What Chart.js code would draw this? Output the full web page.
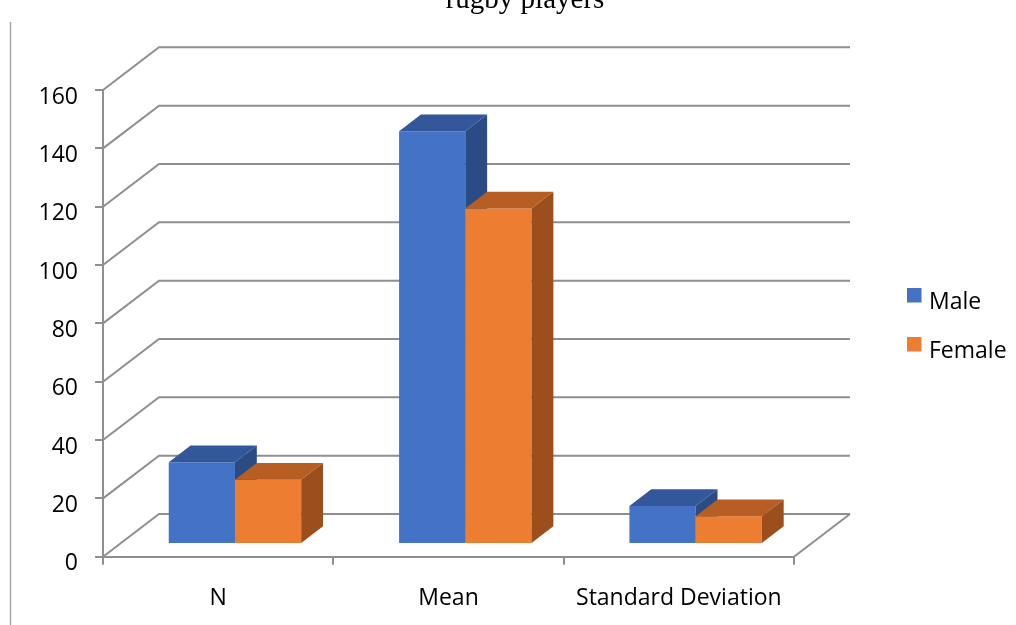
<!DOCTYPE html>
<html>
<head>
<meta charset="utf-8">
<script src="https://cdn.jsdelivr.net/npm/chart.js@4.4.1/dist/chart.umd.min.js"></script>
<style>
  html, body { margin: 0; padding: 0; background: #ffffff; }
  #wrap { width: 1016px; height: 625px; position: relative; }
</style>
</head>
<body>
<div id="wrap"><canvas id="chart" width="1016" height="625"></canvas></div>
<script>
// ---- data ----
const categories = ['N', 'Mean', 'Standard Deviation'];
const seriesNames = ['Male', 'Female'];
const maleValues = [28, 141.5, 13];
const femaleValues = [22, 115, 9.5];
const titleText = 'rugby players';
const yMin = 0;
const yMax = 160;
const yStep = 20;

// ---- look ----
const FONT = '"Open Sans", "DejaVu Sans", sans-serif';
const GRID = '#8f8f8f';
const faceColors = [
  { front: '#4472C4', top: '#32579B', side: '#2B4B85' },
  { front: '#ED7D31', top: '#B65E23', side: '#9C4F1D' }
];
// oblique projection: where the back wall sits relative to the front plane
const WALL_DX = 56;
const WALL_DY = -42.7;
// bars occupy this slice of the depth
const BAR_FRONT = 0.30;
const BAR_DEPTH = 0.39;

function drawWalls(chart) {
  const { ctx, chartArea } = chart;
  const ys = chart.scales.y;
  ctx.save();
  ctx.strokeStyle = GRID;
  ctx.lineWidth = 2;
  ys.ticks.forEach(t => {
    const y = ys.getPixelForValue(t.value);
    ctx.beginPath();
    ctx.moveTo(chartArea.left, y);
    ctx.lineTo(chartArea.left + WALL_DX, y + WALL_DY);
    ctx.lineTo(chartArea.right + WALL_DX, y + WALL_DY);
    ctx.stroke();
  });
  // right edge of the floor
  const y0 = ys.getPixelForValue(yMin);
  ctx.beginPath();
  ctx.moveTo(chartArea.right + WALL_DX, y0 + WALL_DY);
  ctx.lineTo(chartArea.right, y0);
  ctx.stroke();
  ctx.restore();
}

function drawFaces(ctx, meta, col) {
  const ddx = WALL_DX * BAR_DEPTH;
  const ddy = WALL_DY * BAR_DEPTH;
  meta.data.forEach(bar => {
    const { x, y, base, width } = bar.getProps(['x', 'y', 'base', 'width'], true);
    const l = x - width / 2;
    const r = x + width / 2;
    // top face
    ctx.fillStyle = col.top;
    ctx.beginPath();
    ctx.moveTo(l, y);
    ctx.lineTo(l + ddx, y + ddy);
    ctx.lineTo(r + ddx, y + ddy);
    ctx.lineTo(r, y);
    ctx.closePath();
    ctx.fill();
    // right side face
    ctx.fillStyle = col.side;
    ctx.beginPath();
    ctx.moveTo(r, y);
    ctx.lineTo(r + ddx, y + ddy);
    ctx.lineTo(r + ddx, base + ddy);
    ctx.lineTo(r, base);
    ctx.closePath();
    ctx.fill();
  });
}

const box3d = {
  id: 'box3d',
  beforeDatasetsDraw(chart) {
    const ctx = chart.ctx;
    drawWalls(chart);
    // series drawn left to right so each box hides the side of the one before it
    chart.data.datasets.forEach((ds, i) => {
      const meta = chart.getDatasetMeta(i);
      if (!chart.isDatasetVisible(i)) return;
      ctx.save();
      ctx.translate(WALL_DX * BAR_FRONT, WALL_DY * BAR_FRONT);
      meta.controller.draw();
      drawFaces(ctx, meta, faceColors[i]);
      ctx.restore();
    });
    return false;
  },
  afterDraw(chart) {
    const ctx = chart.ctx;
    ctx.save();
    // frame line on the left
    ctx.strokeStyle = '#a8a8a8';
    ctx.lineWidth = 1.5;
    ctx.beginPath();
    ctx.moveTo(10.5, 22);
    ctx.lineTo(10.5, 625);
    ctx.stroke();
    // title
    ctx.fillStyle = '#000';
    ctx.font = '29px "Liberation Serif", "Times New Roman", serif';
    ctx.textAlign = 'center';
    ctx.textBaseline = 'alphabetic';
    ctx.fillText(titleText, 525, 8);
    // legend
    ctx.font = '23px ' + FONT;
    ctx.textAlign = 'left';
    chart.data.datasets.forEach((ds, i) => {
      const top = 288 + i * 49;
      ctx.fillStyle = ds.backgroundColor;
      ctx.fillRect(907, top, 14.5, 14.5);
      ctx.fillStyle = '#000';
      ctx.fillText(ds.label, 929, top + 20.5);
    });
    ctx.restore();
  }
};

new Chart(document.getElementById('chart'), {
  type: 'bar',
  data: {
    labels: categories,
    datasets: [
      { label: seriesNames[0], data: maleValues, backgroundColor: faceColors[0].front },
      { label: seriesNames[1], data: femaleValues, backgroundColor: faceColors[1].front }
    ]
  },
  options: {
    responsive: false,
    animation: false,
    devicePixelRatio: 1,
    layout: { padding: { top: 90, right: 222, bottom: 0, left: 0 } },
    datasets: { bar: { categoryPercentage: 0.575, barPercentage: 1.0, borderWidth: 0 } },
    plugins: {
      legend: { display: false },
      title: { display: false },
      tooltip: { enabled: false }
    },
    scales: {
      x: {
        type: 'category',
        offset: true,
        grid: { display: true, offset: true, drawOnChartArea: false, drawTicks: true, tickLength: 8, color: GRID, lineWidth: 2 },
        border: { display: true, color: GRID, width: 2 },
        ticks: { color: '#000', font: { family: FONT, size: 23 }, padding: 20, maxRotation: 0, autoSkip: false },
        afterFit(scale) { scale.height = 68.3; }
      },
      y: {
        min: yMin,
        max: yMax,
        grid: { display: true, drawOnChartArea: false, drawTicks: true, tickLength: 8, color: GRID, lineWidth: 2 },
        border: { display: true, color: GRID, width: 2 },
        ticks: { stepSize: yStep, color: '#000', font: { family: FONT, size: 23 }, padding: 17, labelOffset: 7 },
        afterFit(scale) { scale.width = 103; }
      }
    }
  },
  plugins: [box3d]
});
</script>
</body>
</html>
